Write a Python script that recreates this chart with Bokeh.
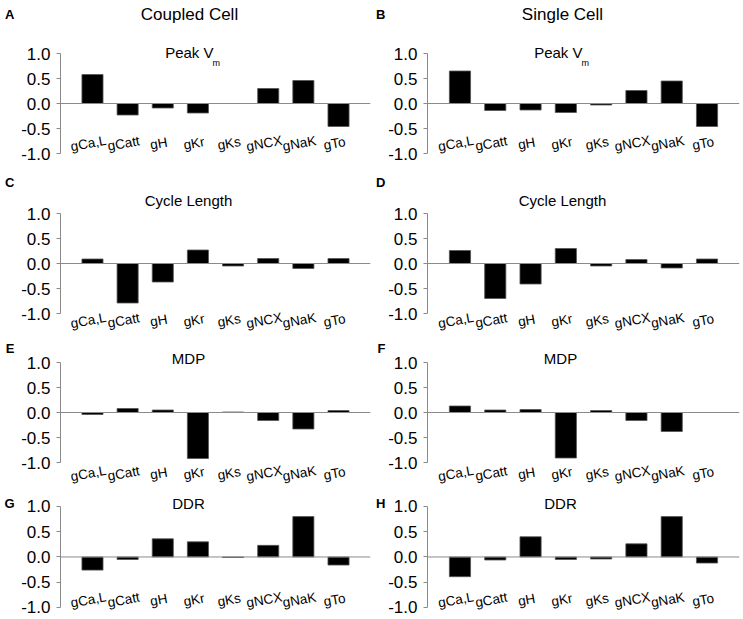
from bokeh.plotting import figure
from bokeh.models import (FactorRange, Range1d, Span, Label, FixedTicker,
                          PrintfTickFormatter, LinearAxis)
from bokeh.layouts import column, row
from bokeh.core.properties import value
from bokeh.embed import file_html
from bokeh.resources import INLINE

# ---- data ----
cats = ["gCa,L", "gCatt", "gH", "gKr", "gKs", "gNCX", "gNaK", "gTo"]
coupled_peak = [0.58, -0.23, -0.09, -0.19, 0.0, 0.30, 0.46, -0.46]
single_peak = [0.65, -0.14, -0.13, -0.18, -0.03, 0.26, 0.45, -0.46]
coupled_cycle = [0.09, -0.79, -0.37, 0.27, -0.05, 0.10, -0.10, 0.10]
single_cycle = [0.26, -0.70, -0.41, 0.30, -0.05, 0.08, -0.09, 0.09]
coupled_mdp = [-0.04, 0.08, 0.05, -0.92, 0.01, -0.16, -0.33, 0.04]
single_mdp = [0.13, 0.05, 0.06, -0.91, 0.04, -0.16, -0.38, 0.0]
coupled_ddr = [-0.26, -0.05, 0.36, 0.30, -0.01, 0.23, 0.80, -0.16]
single_ddr = [-0.39, -0.06, 0.40, -0.05, -0.04, 0.26, 0.80, -0.12]
yticks = [-1.0, -0.5, 0.0, 0.5, 1.0]
col_titles = ["Coupled Cell", "Single Cell"]
row_titles = ["Peak V", "Cycle Length", "MDP", "DDR"]
letters = [["A", "B"], ["C", "D"], ["E", "F"], ["G", "H"]]

FONT = "Liberation Sans"
GRAY = "#8a8a8a"

# ---- layout parameters ----
row_heights = [165, 170, 153, 131]
row_yranges = [(-1.24, 2.06), (-1.44, 1.96), (-1.52, 1.54), (-1.238, 1.356)]
row_label_y = [-0.80, -1.14, -1.22, -0.85]
row_letter_y = [1.78, 1.62, 1.28, 1.06]        # data units
row_title_y = [113, 135, 130, 116]             # screen y from frame bottom
col_width = [372, 371]
col_border_left = [60, 55]
col_border_right = [2, 4]
col_padding = [0.1025, 0.105]
col_letter_standoff = [4, 0]
col_title_x = [[153, 155], [128, 135], [128, 133], [128, 133]]
head_x = [129, 135]

data = [[coupled_peak, single_peak], [coupled_cycle, single_cycle],
        [coupled_mdp, single_mdp], [coupled_ddr, single_ddr]]


def make_panel(r, c):
    vals = data[r][c]
    p = figure(width=col_width[c], height=row_heights[r],
               x_range=FactorRange(factors=cats, range_padding=col_padding[c]),
               y_range=Range1d(*row_yranges[r]),
               x_axis_location=None, output_backend="svg", toolbar_location=None,
               min_border_left=col_border_left[c], min_border_right=col_border_right[c],
               min_border_top=0, min_border_bottom=0)
    p.outline_line_color = None
    p.grid.visible = False
    p.background_fill_color = "white"
    p.border_fill_color = "white"

    ax = p.yaxis[0]
    ax.ticker = FixedTicker(ticks=yticks)
    ax.formatter = PrintfTickFormatter(format="%.1f")
    ax.bounds = (-1, 1)
    ax.axis_line_color = GRAY
    ax.major_tick_line_color = GRAY
    ax.minor_tick_line_color = None
    ax.major_tick_in = 0
    ax.major_tick_out = 4
    ax.major_label_standoff = 6
    ax.major_label_text_font = FONT
    ax.major_label_text_font_size = "17px"
    ax.major_label_text_color = "black"

    # panel letter, shown as the single label of an outer left axis
    ly = row_letter_y[r]
    lax = LinearAxis(ticker=FixedTicker(ticks=[ly]),
                     major_label_overrides={ly: letters[r][c]},
                     axis_line_color=None, major_tick_line_color=None,
                     minor_tick_line_color=None, major_tick_in=0, major_tick_out=0,
                     major_label_standoff=col_letter_standoff[c],
                     major_label_text_font=FONT, major_label_text_font_size="13px",
                     major_label_text_font_style="bold", major_label_text_color="black")
    p.add_layout(lax, "left")

    p.add_layout(Span(location=0, dimension="width", line_color=GRAY, line_width=1))

    p.vbar(x=cats, top=vals, bottom=0, width=0.6, fill_color="black",
           line_color="#555555", line_width=0.8)

    p.text(x=cats, y=[row_label_y[r]] * len(cats), text=cats, angle=0.18,
           x_offset=-4, text_font=value(FONT), text_font_size="13.5px",
           text_color="black", text_align="center", text_baseline="middle")

    if r == 0:
        p.add_layout(Label(x=head_x[c], y=151, x_units="screen", y_units="screen",
                           text=col_titles[c], text_font=FONT, text_font_size="17px",
                           text_color="black", text_align="center", text_baseline="middle"))
        right = col_title_x[r][c]
        p.add_layout(Label(x=right, y=row_title_y[r], x_units="screen", y_units="screen",
                           text=row_titles[r], text_font=FONT, text_font_size="15px",
                           text_color="black", text_align="right", text_baseline="middle"))
        p.add_layout(Label(x=right - 1, y=row_title_y[r] - 10, x_units="screen", y_units="screen",
                           text="m", text_font=FONT, text_font_size="9px",
                           text_color="black", text_align="left", text_baseline="middle"))
    else:
        p.add_layout(Label(x=col_title_x[r][c], y=row_title_y[r], x_units="screen", y_units="screen",
                           text=row_titles[r], text_font=FONT, text_font_size="15px",
                           text_color="black", text_align="center", text_baseline="middle"))
    return p


rows = [row(make_panel(r, 0), make_panel(r, 1)) for r in range(4)]
layout = column(*rows)

open("out.html", "w").write(file_html(layout, INLINE))
